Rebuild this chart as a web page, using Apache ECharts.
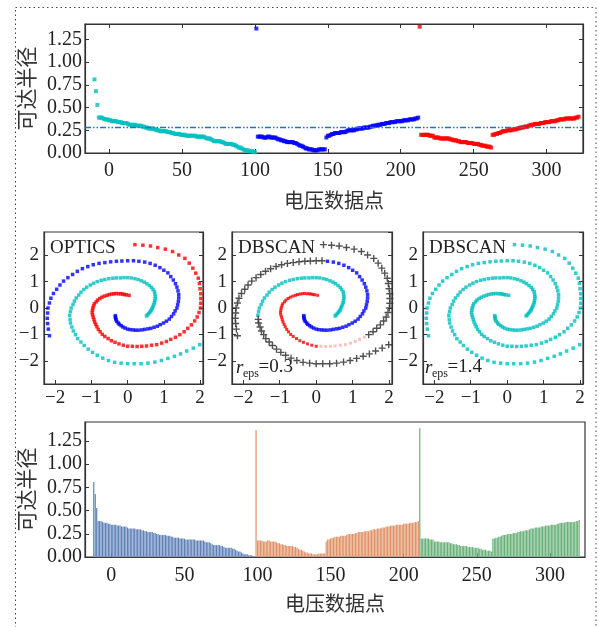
<!DOCTYPE html>
<html>
<head>
<meta charset="utf-8">
<script src="https://cdn.jsdelivr.net/npm/echarts@6/dist/echarts.min.js"></script>
<style>
  html, body { margin: 0; padding: 0; background: #fff; }
  #chart { width: 599px; height: 627px; }
</style>
</head>
<body>
<div id="chart"></div>
<script>
// reachability distance per ordered point (OPTICS output)
const reach = [
  0.81, 0.68, 0.53, 0.39, 0.39, 0.39, 0.38, 0.37, 0.37, 0.37, 0.36, 0.36,
  0.35, 0.35, 0.35, 0.35, 0.34, 0.34, 0.34, 0.33, 0.33, 0.33, 0.33, 0.32,
  0.31, 0.31, 0.31, 0.31, 0.31, 0.30, 0.30, 0.30, 0.30, 0.29, 0.29,
  0.28, 0.28, 0.27, 0.27, 0.27, 0.27, 0.26, 0.26, 0.25,
  0.25, 0.24, 0.24, 0.24, 0.24, 0.24, 0.23, 0.23, 0.23, 0.22,
  0.22, 0.21, 0.21, 0.21, 0.21, 0.20, 0.20, 0.20, 0.20,
  0.19, 0.19, 0.19, 0.19, 0.19, 0.19, 0.19, 0.18, 0.18, 0.18, 0.18, 0.18, 0.18, 0.17,
  0.16, 0.16, 0.16, 0.15,
  0.14, 0.13, 0.13, 0.13, 0.13, 0.13, 0.12, 0.12,
  0.11, 0.10, 0.10, 0.10, 0.10, 0.10, 0.09, 0.09,
  0.08, 0.07, 0.06, 0.06, 0.05,
  0.04, 0.03, 0.03, 0.03, 0.02, 0.02, 0.02, 0.01, 0.01,
  // second cluster
  1.37,
  0.18, 0.18, 0.18, 0.18, 0.17, 0.17, 0.17, 0.18, 0.18, 0.17, 0.17, 0.17, 0.17, 0.16,
  0.15, 0.15, 0.14, 0.14, 0.13,
  0.13, 0.12, 0.12, 0.12, 0.12, 0.12, 0.11, 0.11, 0.10,
  0.09, 0.08, 0.08, 0.07, 0.06,
  0.05, 0.05, 0.04, 0.04, 0.04, 0.03, 0.03, 0.03, 0.03, 0.04, 0.04, 0.04, 0.04, 0.04,
  0.17, 0.19, 0.19, 0.20,
  0.21, 0.21, 0.22, 0.22, 0.22, 0.22, 0.23, 0.23, 0.23, 0.23, 0.24,
  0.25, 0.25, 0.25, 0.25, 0.25, 0.26, 0.26,
  0.27, 0.27, 0.27, 0.27, 0.28, 0.28, 0.28, 0.28, 0.29,
  0.29, 0.30, 0.30, 0.30, 0.31, 0.31, 0.31, 0.32, 0.32, 0.32, 0.33,
  0.33, 0.33, 0.34, 0.34, 0.34, 0.34, 0.35, 0.35, 0.35, 0.35, 0.35, 0.36,
  0.36, 0.36, 0.36, 0.37, 0.37, 0.37, 0.37, 0.38, 0.38, 0.39,
  // third cluster
  1.39,
  0.20, 0.20, 0.20, 0.20, 0.20, 0.20, 0.19, 0.19, 0.19,
  0.17, 0.17, 0.17, 0.17, 0.16, 0.16, 0.16, 0.16, 0.16, 0.16, 0.16, 0.15, 0.15,
  0.14, 0.14, 0.14, 0.13, 0.13,
  0.12, 0.12, 0.12, 0.12, 0.12, 0.11, 0.11, 0.11, 0.11,
  0.10, 0.10, 0.10, 0.10, 0.09, 0.09, 0.08,
  0.08, 0.08, 0.07, 0.07, 0.07, 0.06,
  0.20, 0.20, 0.21, 0.21, 0.22, 0.22, 0.23,
  0.24, 0.24, 0.24, 0.25, 0.25, 0.25, 0.25, 0.26, 0.26, 0.26, 0.27, 0.27,
  0.28, 0.28, 0.28, 0.29, 0.29, 0.29, 0.30,
  0.31, 0.31, 0.31, 0.32, 0.32, 0.32, 0.32, 0.33, 0.33,
  0.33, 0.34, 0.34, 0.34, 0.34, 0.35, 0.35, 0.35, 0.35, 0.36, 0.36,
  0.37, 0.37, 0.37, 0.37, 0.38, 0.38, 0.38, 0.38, 0.38, 0.38, 0.38, 0.39, 0.39, 0.40
];
// cluster index ranges in reach (inclusive)
const clusterRanges = [[0, 110], [111, 222], [223, 332]];
const topStart = -10;   // x of first point in the upper plot
const barStart = -12;   // x of first bar in the lower plot
const epsLine = 0.28;

// spiral arms, points read along each arm from the inner end outwards
const armRed = [
  [0.04, 0.48], [-0.04, 0.50], [-0.09, 0.51], [-0.14, 0.53], [-0.19, 0.54], [-0.25, 0.54],
  [-0.32, 0.55], [-0.38, 0.54], [-0.44, 0.53], [-0.51, 0.51], [-0.57, 0.48], [-0.64, 0.45],
  [-0.71, 0.41], [-0.77, 0.36], [-0.83, 0.30], [-0.87, 0.23], [-0.92, 0.16], [-0.94, 0.08],
  [-0.96, 0.00], [-0.97, -0.08], [-0.98, -0.17], [-0.97, -0.26], [-0.95, -0.35], [-0.93, -0.44],
  [-0.91, -0.53], [-0.88, -0.62], [-0.85, -0.71], [-0.81, -0.81], [-0.76, -0.90], [-0.70, -1.00],
  [-0.63, -1.08], [-0.54, -1.16], [-0.45, -1.24], [-0.35, -1.30], [-0.24, -1.36], [-0.12, -1.41],
  [0.00, -1.45], [0.13, -1.45], [0.26, -1.46], [0.39, -1.45], [0.52, -1.44], [0.66, -1.41],
  [0.80, -1.39], [0.94, -1.33], [1.07, -1.27], [1.19, -1.19], [1.32, -1.11], [1.44, -1.01],
  [1.56, -0.90], [1.66, -0.77], [1.76, -0.64], [1.85, -0.49], [1.92, -0.34], [1.97, -0.17],
  [2.01, 0.00], [2.02, 0.18], [2.02, 0.36], [2.02, 0.54], [2.00, 0.73], [1.98, 0.93],
  [1.95, 1.13], [1.88, 1.32], [1.80, 1.51], [1.70, 1.70], [1.58, 1.88], [1.41, 2.01],
  [1.24, 2.14], [1.04, 2.23], [0.83, 2.29], [0.63, 2.35], [0.42, 2.38], [0.20, 2.40]
];
const armCyan = [
  [0.52, -0.30], [0.55, -0.26], [0.58, -0.21], [0.61, -0.16], [0.64, -0.11], [0.66, -0.06],
  [0.68, 0.00], [0.70, 0.06], [0.72, 0.13], [0.74, 0.20], [0.75, 0.27], [0.76, 0.36],
  [0.76, 0.44], [0.75, 0.53], [0.74, 0.62], [0.70, 0.70], [0.66, 0.78], [0.60, 0.85],
  [0.53, 0.92], [0.46, 0.98], [0.38, 1.03], [0.29, 1.08], [0.20, 1.11], [0.10, 1.14],
  [0.00, 1.15], [-0.10, 1.15], [-0.20, 1.14], [-0.31, 1.14], [-0.41, 1.13], [-0.52, 1.11],
  [-0.63, 1.08], [-0.73, 1.05], [-0.84, 1.00], [-0.94, 0.94], [-1.03, 0.87], [-1.13, 0.79],
  [-1.21, 0.70], [-1.29, 0.60], [-1.35, 0.49], [-1.42, 0.38], [-1.47, 0.26], [-1.51, 0.13],
  [-1.56, 0.00], [-1.58, -0.14], [-1.60, -0.28], [-1.59, -0.43], [-1.58, -0.57], [-1.54, -0.72],
  [-1.50, -0.87], [-1.44, -1.01], [-1.38, -1.16], [-1.29, -1.29], [-1.20, -1.42], [-1.09, -1.56],
  [-0.97, -1.68], [-0.84, -1.79], [-0.69, -1.90], [-0.53, -1.99], [-0.36, -2.06], [-0.18, -2.09],
  [0.00, -2.11], [0.18, -2.11], [0.37, -2.11], [0.56, -2.09], [0.75, -2.05], [0.93, -1.99],
  [1.11, -1.91], [1.29, -1.83], [1.46, -1.74], [1.63, -1.63], [1.81, -1.52], [1.99, -1.39]
];
const armBlue = [
  [-0.34, -0.29], [-0.34, -0.34], [-0.33, -0.40], [-0.32, -0.45], [-0.30, -0.51], [-0.26, -0.57],
  [-0.23, -0.62], [-0.18, -0.67], [-0.13, -0.72], [-0.07, -0.76], [0.00, -0.80], [0.07, -0.82],
  [0.15, -0.83], [0.22, -0.84], [0.30, -0.84], [0.39, -0.83], [0.47, -0.81], [0.56, -0.79],
  [0.64, -0.77], [0.73, -0.73], [0.82, -0.69], [0.90, -0.63], [0.99, -0.57], [1.07, -0.50],
  [1.15, -0.42], [1.21, -0.32], [1.27, -0.22], [1.31, -0.11], [1.36, 0.00], [1.38, 0.12],
  [1.40, 0.25], [1.41, 0.38], [1.41, 0.51], [1.39, 0.65], [1.36, 0.79], [1.32, 0.92],
  [1.26, 1.06], [1.19, 1.19], [1.11, 1.33], [1.00, 1.43], [0.89, 1.53], [0.76, 1.62],
  [0.62, 1.69], [0.47, 1.74], [0.31, 1.77], [0.16, 1.79], [0.00, 1.79], [-0.16, 1.78],
  [-0.31, 1.77], [-0.47, 1.75], [-0.63, 1.72], [-0.79, 1.69], [-0.95, 1.64], [-1.10, 1.57],
  [-1.25, 1.49], [-1.39, 1.39], [-1.52, 1.27], [-1.65, 1.15], [-1.77, 1.02], [-1.87, 0.87],
  [-1.96, 0.71], [-2.05, 0.55], [-2.12, 0.37], [-2.16, 0.19], [-2.20, 0.00], [-2.21, -0.19],
  [-2.22, -0.39], [-2.21, -0.59], [-2.19, -0.80], [-2.16, -1.05]
];
// DBSCAN r=0.3: last core index of each arm, red border points after it
const redCoreEnd = 36, redBorderEnd = 46, cyanCoreEnd = 44, blueCoreEnd = 44;

const C_CYAN = '#00bfbf', C_BLUE = '#0000ff', C_RED = '#ff0000', C_PINK = '#ffb0b0', C_NOISE = '#333333';
const BAR_COLORS = ['#4c72b0', '#dd8452', '#55a868'];
const SERIF = 'Liberation Serif';
const CJK = 'Noto Sans CJK SC';
const PLUS = 'path://M4,0H6V4H10V6H6V10H4V6H0V4H4Z';

const fmtMinus = v => (v < 0 ? '\u2212' + Math.abs(v) : String(v));

function reachPts(range, start) {
  const out = [];
  for (let i = range[0]; i <= range[1]; i++) out.push([start + i, reach[i]]);
  return out;
}
function part(arm, a, b) { return arm.slice(a, b + 1); }

const axisCol = '#333';
function label(size, margin, fmt, showMin) {
  return { color: '#222', fontFamily: SERIF, fontSize: size, margin: margin, formatter: fmt,
    showMinLabel: !!showMin, showMaxLabel: false };
}
function baseAxis(extra) {
  return Object.assign({
    type: 'value',
    axisLine: { show: true, onZero: false, lineStyle: { color: axisCol, width: 1.2 } },
    axisTick: { show: true, inside: true, length: 4, lineStyle: { color: axisCol } },
    splitLine: { show: false },
    axisLabel: label(20, 8)
  }, extra);
}
function mirror(extra) {
  const a = baseAxis(extra);
  a.axisLabel = { show: false };
  return a;
}

const grids = [
  { left: 85, top: 24, width: 498, height: 129 },
  { left: 44, top: 232, width: 159, height: 152 },
  { left: 232, top: 232, width: 160, height: 152 },
  { left: 423, top: 232, width: 160, height: 152 },
  { left: 85, top: 422, width: 500, height: 135 }
].map(g => Object.assign({ show: true, borderColor: axisCol, borderWidth: 1.2, backgroundColor: 'transparent' }, g));

const midX = g => baseAxis({ gridIndex: g, min: -2.31, max: 2.08, minInterval: 1, maxInterval: 1, axisLabel: label(19, 5, fmtMinus) });
const midY = g => baseAxis({ gridIndex: g, min: -2.88, max: 2.88, minInterval: 1, maxInterval: 1, axisLabel: label(19, 5, fmtMinus) });
const midYR = g => mirror({ gridIndex: g, position: 'right', min: -2.88, max: 2.88, minInterval: 1, maxInterval: 1 });

const xName = {
  name: '电压数据点', nameLocation: 'middle',
  nameTextStyle: { fontFamily: CJK, fontSize: 20, color: '#333' }
};
const yName = {
  name: '可达半径', nameLocation: 'middle', nameRotate: 90, nameGap: 46,
  nameTextStyle: { fontFamily: CJK, fontSize: 21, color: '#333' }
};
const yFmt = v => v.toFixed(2);

const xAxes = [
  baseAxis(Object.assign({ gridIndex: 0, min: -16.5, max: 325, minInterval: 50, maxInterval: 50, nameGap: 37 }, xName,
    { axisLabel: label(20, 8) })),
  mirror({ gridIndex: 0, position: 'top', min: -16.5, max: 325, minInterval: 50, maxInterval: 50 }),
  midX(1), midX(2), midX(3),
  baseAxis(Object.assign({ gridIndex: 4, min: -18, max: 324, minInterval: 50, maxInterval: 50, nameGap: 36 }, xName,
    { axisLabel: label(20, 9) }))
];
const yAxes = [
  baseAxis(Object.assign({ gridIndex: 0, min: 0, max: 1.42, interval: 0.25 }, yName, { axisLabel: label(20, 3, yFmt, true) })),
  mirror({ gridIndex: 0, position: 'right', min: 0, max: 1.42, interval: 0.25 }),
  midY(1), midY(2), midY(3),
  midYR(1), midYR(2), midYR(3),
  baseAxis(Object.assign({ gridIndex: 4, min: 0, max: 1.455, interval: 0.25 }, yName, { axisLabel: label(20, 3, yFmt, true) }))
];

function dots(xi, yi, data, color, size) {
  return { type: 'scatter', xAxisIndex: xi, yAxisIndex: yi, data: data, symbol: 'rect',
    symbolSize: size || 3.5, itemStyle: { color: color }, silent: true };
}
function noise(xi, yi, data) {
  return { type: 'scatter', xAxisIndex: xi, yAxisIndex: yi, data: data, symbol: PLUS,
    symbolSize: 7, itemStyle: { color: C_NOISE, opacity: 0.85 }, silent: true };
}

const topColors = [C_CYAN, C_BLUE, C_RED];
const series = [];
clusterRanges.forEach((r, k) => {
  series.push(dots(0, 0, reachPts(r, topStart), topColors[k], 4));
});
series[2].markLine = {
  silent: true, symbol: 'none', label: { show: false },
  lineStyle: { color: '#1f77b4', width: 1.3, type: [6, 2, 1.5, 2, 1.5, 2] },
  data: [{ yAxis: epsLine }]
};

// OPTICS panel
series.push(dots(2, 2, armRed, C_RED), dots(2, 2, armCyan, C_CYAN), dots(2, 2, armBlue, C_BLUE));
// DBSCAN r = 0.3
series.push(
  dots(3, 3, part(armRed, 0, redCoreEnd), C_RED, 3),
  dots(3, 3, part(armRed, redCoreEnd + 1, redBorderEnd), C_PINK, 3),
  dots(3, 3, part(armCyan, 0, cyanCoreEnd), C_CYAN),
  dots(3, 3, part(armBlue, 0, blueCoreEnd), C_BLUE),
  noise(3, 3, part(armRed, redBorderEnd + 1, armRed.length - 1)),
  noise(3, 3, part(armCyan, cyanCoreEnd + 1, armCyan.length - 1)),
  noise(3, 3, part(armBlue, blueCoreEnd + 1, armBlue.length - 1))
);
// DBSCAN r = 1.4
series.push(dots(4, 4, armRed, C_CYAN), dots(4, 4, armCyan, C_CYAN), dots(4, 4, armBlue, C_CYAN));

// bar version of the reachability plot
const barData = [];
clusterRanges.forEach((r, k) => {
  for (let i = r[0]; i <= r[1]; i++) {
    barData.push({ value: [barStart + i, reach[i]], itemStyle: { color: BAR_COLORS[k] } });
  }
});
series.push({
  type: 'bar', xAxisIndex: 5, yAxisIndex: 8, data: barData, barWidth: 1.5, silent: true,
  itemStyle: { borderColor: 'rgba(255,255,255,0.45)', borderWidth: 0.3 }
});

function txt(x, y, s, size, extra) {
  return { type: 'text', x: x, y: y, silent: true,
    style: Object.assign({ text: s, fontFamily: SERIF, fontSize: size, fill: '#222', textVerticalAlign: 'middle' }, extra || {}) };
}

const graphic = [
  { type: 'rect', silent: true, shape: { x: 15.5, y: 7.5, width: 580.5, height: 650 },
    style: { fill: 'none', stroke: '#444', lineWidth: 1, lineDash: [1.5, 3] } },
  txt(50, 248, 'OPTICS', 19),
  txt(238, 248.5, 'DBSCAN', 19),
  txt(429, 248.5, 'DBSCAN', 19),
  txt(236, 367.5, 'r', 19, { fontStyle: 'italic' }),
  txt(243, 374, 'eps', 12),
  txt(258.5, 367.5, '=0.3', 19),
  txt(425, 367.5, 'r', 19, { fontStyle: 'italic' }),
  txt(432, 374, 'eps', 12),
  txt(447.5, 367.5, '=1.4', 19)
];

const chart = echarts.init(document.getElementById('chart'), null, { renderer: 'canvas' });
chart.setOption({
  animation: false,
  backgroundColor: '#fff',
  grid: grids,
  xAxis: xAxes,
  yAxis: yAxes,
  series: series,
  graphic: graphic
});
</script>
</body>
</html>
